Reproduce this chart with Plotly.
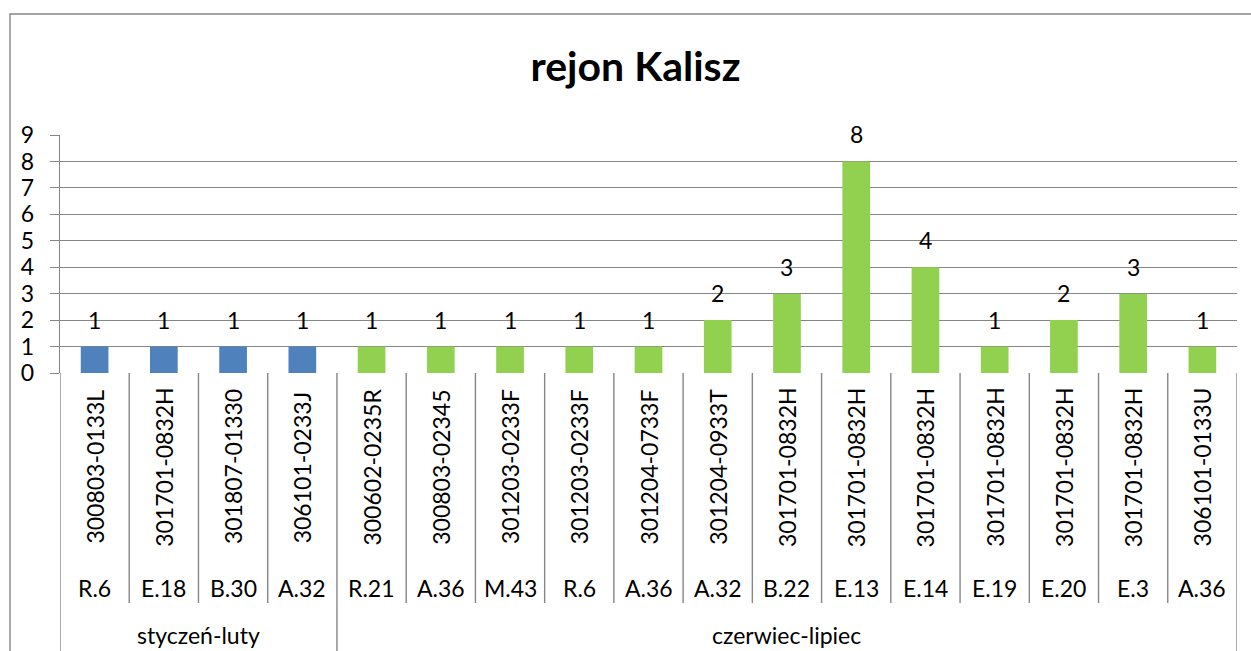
import plotly.graph_objects as go

# ---- data ----
codes = ["300803-0133L", "301701-0832H", "301807-01330", "306101-0233J",
         "300602-0235R", "300803-02345", "301203-0233F", "301203-0233F",
         "301204-0733F", "301204-0933T", "301701-0832H", "301701-0832H",
         "301701-0832H", "301701-0832H", "301701-0832H", "301701-0832H",
         "306101-0133U"]
subcodes = ["R.6", "E.18", "B.30", "A.32", "R.21", "A.36", "M.43", "R.6",
            "A.36", "A.32", "B.22", "E.13", "E.14", "E.19", "E.20", "E.3", "A.36"]
periods = ["styczeń-luty"] * 4 + ["czerwiec-lipiec"] * 13
values = [1, 1, 1, 1, 1, 1, 1, 1, 1, 2, 3, 8, 4, 1, 2, 3, 1]
period_colors = {"styczeń-luty": "#4F81BD", "czerwiec-lipiec": "#92D050"}
y_ticks = list(range(0, 10))

FONT = "Lato"
GRID = "#868686"

W, H = 1251, 651
ML, MR, MT, MB = 60, 14, 135, 278
PH = H - MT - MB


def py(ypx):
    """convert pixel y (from top) to paper y"""
    return 1 - (ypx - MT) / PH


idx = list(range(len(codes)))

fig = go.Figure()
fig.add_trace(go.Bar(
    x=idx, y=values, width=0.4,
    marker=dict(color=[period_colors[p] for p in periods], line=dict(width=0)),
    hoverinfo="skip",
))

ann = []
# data labels
for i, v in zip(idx, values):
    ann.append(dict(x=i, y=v, xref="x", yref="y", text=str(v), showarrow=False,
                    yanchor="bottom", yshift=11, font=dict(family=FONT, size=23, color="#000")))
# code labels (rotated)
for i, c in zip(idx, codes):
    ann.append(dict(x=i, y=py(467), xref="x", yref="paper", text=c, showarrow=False,
                    textangle=-90, yanchor="middle", xanchor="center",
                    font=dict(family=FONT, size=23, color="#000")))
# sub-codes
for i, s in zip(idx, subcodes):
    ann.append(dict(x=i, y=py(588), xref="x", yref="paper", text=s, showarrow=False,
                    yanchor="middle", font=dict(family=FONT, size=23, color="#000")))

# groups
groups = []
for i, p in enumerate(periods):
    if not groups or groups[-1][0] != p:
        groups.append([p, i, i])
    else:
        groups[-1][2] = i
for p, a, b in groups:
    ann.append(dict(x=(a + b) / 2, y=py(635), xref="x", yref="paper", text=p, showarrow=False,
                    yanchor="middle", font=dict(family=FONT, size=23, color="#000")))

shapes = []
group_bounds = set()
for p, a, b in groups:
    group_bounds.add(a)
    group_bounds.add(b + 1)
for k in range(len(codes) + 1):
    y1 = py(H + 20) if k in group_bounds else py(603)
    shapes.append(dict(type="line", xref="x", yref="paper", x0=k - 0.5, x1=k - 0.5,
                       y0=0, y1=y1, line=dict(color=GRID, width=1.4)))
# outer chart border
shapes.append(dict(type="rect", xref="paper", yref="paper",
                   x0=(10 - ML) / (W - ML - MR), x1=(W + 20 - ML) / (W - ML - MR),
                   y0=py(H + 20), y1=py(14), line=dict(color=GRID, width=1.4),
                   fillcolor="rgba(0,0,0,0)", layer="below"))

fig.update_layout(
    width=W, height=H,
    margin=dict(l=ML, r=MR, t=MT, b=MB),
    paper_bgcolor="white", plot_bgcolor="white",
    showlegend=False,
    title=dict(text="<b>rejon Kalisz</b>", x=0.508, xref="container", y=1 - 67 / H,
               yref="container", xanchor="center", yanchor="middle",
               font=dict(family=FONT, size=41, color="#000")),
    xaxis=dict(range=[-0.5, len(codes) - 0.5], showticklabels=False, ticks="",
               showgrid=False, zeroline=False, showline=False, fixedrange=True),
    yaxis=dict(range=[0, 9], tickvals=y_ticks, ticks="outside", ticklen=9,
               tickcolor=GRID, tickwidth=1.4, showgrid=True, gridcolor=GRID, gridwidth=1.4,
               zeroline=False, showline=True, linecolor=GRID, linewidth=1.4,
               ticklabelstandoff=11, fixedrange=True,
               tickfont=dict(family=FONT, size=23, color="#000")),
    annotations=ann,
    shapes=shapes,
    bargap=0.6,
)

fig.write_html("out.html", config={"displayModeBar": False},
               post_script="document.body.style.margin='0px';document.body.style.overflow='hidden';")
